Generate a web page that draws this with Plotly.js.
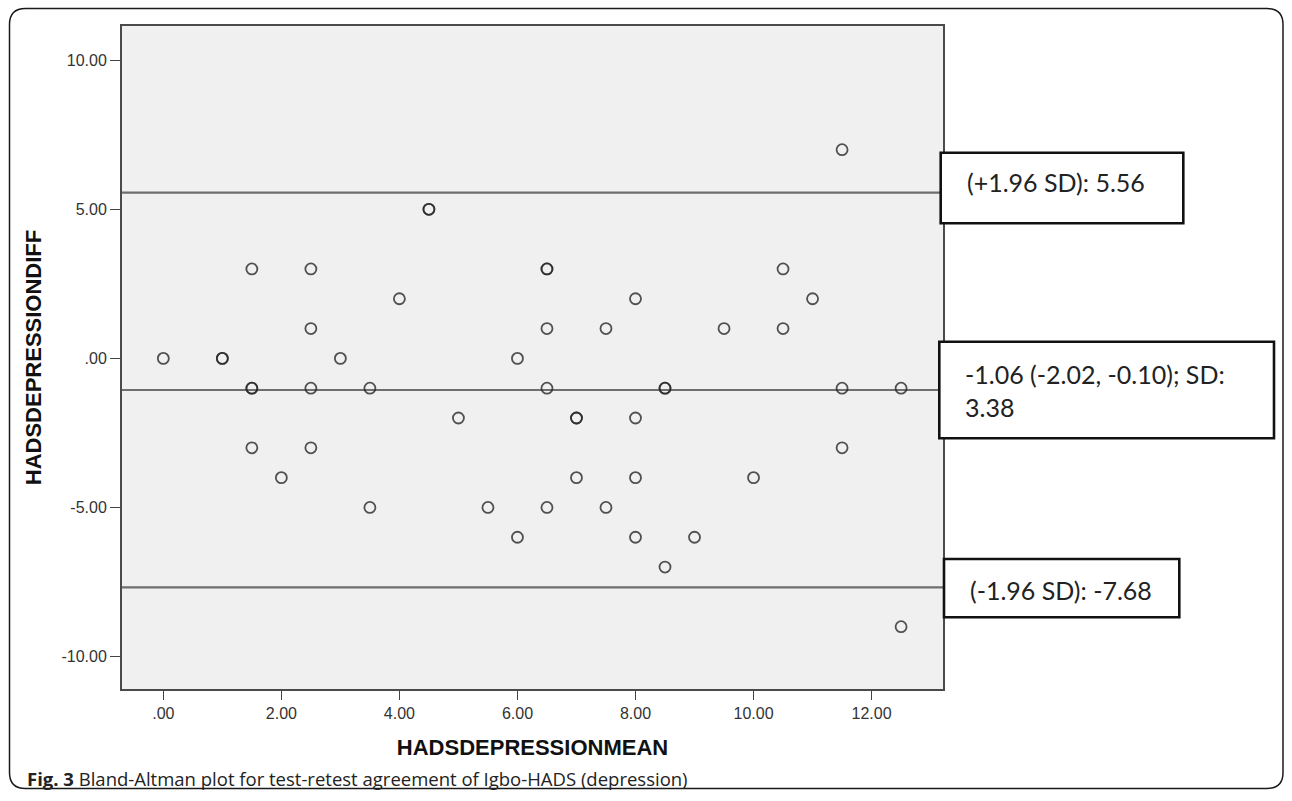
<!DOCTYPE html>
<html>
<head>
<meta charset="utf-8">
<script src="https://cdn.plot.ly/plotly-3.0.1.min.js"></script>
<style>
  html, body { margin: 0; padding: 0; background: #ffffff; }
  #chart { width: 1292px; height: 801px; }
</style>
</head>
<body>
<div id="chart"></div>
<script>
// ---- data ----
const hadsDepressionMean = [0, 1, 1, 1.5, 1.5, 1.5, 1.5, 2, 2.5, 2.5, 2.5, 2.5, 3, 3.5, 3.5, 4, 4.5, 4.5, 5, 5.5,
  6, 6, 6.5, 6.5, 6.5, 6.5, 6.5, 7, 7, 7, 7.5, 7.5, 8, 8, 8, 8, 8.5, 8.5, 8.5, 9, 9.5, 10, 10.5, 10.5, 11,
  11.5, 11.5, 11.5, 12.5, 12.5];
const hadsDepressionDiff = [0, 0, 0, 3, -1, -1, -3, -4, 3, 1, -1, -3, 0, -1, -5, 2, 5, 5, -2, -5,
  0, -6, 3, 3, 1, -1, -5, -2, -2, -4, 1, -5, 2, -2, -4, -6, -1, -1, -7, -6, 1, -4, 3, 1, 2,
  7, -1, -3, -1, -9];
const meanDiff = -1.06;
const ciLow = -2.02;
const ciHigh = -0.10;
const sdDiff = 3.38;
const upperLoA = 5.56;
const lowerLoA = -7.68;
const xTickVals = [0, 2, 4, 6, 8, 10, 12];
const xTickText = ['.00', '2.00', '4.00', '6.00', '8.00', '10.00', '12.00'];
const yTickVals = [-10, -5, 0, 5, 10];
const yTickText = ['-10.00', '-5.00', '.00', '5.00', '10.00'];
const caption = '<b>Fig. 3</b> Bland-Altman plot for test-retest agreement of Igbo-HADS (depression)';

// ---- geometry helpers (plot area in px) ----
const W = 1292, H = 801;
const L = 122, R = 943, T = 26, B = 689;
const pw = R - L, ph = B - T;
const px = v => (v - L) / pw;          // px -> paper x
const py = v => (B - v) / ph;          // px -> paper y

function roundRect(x0, y0, x1, y1, r) {
  const a = px(x0), b = px(x1), c = py(y0), d = py(y1);
  const rx = r / pw, ry = r / ph;
  return `M ${a + rx} ${c} L ${b - rx} ${c} Q ${b} ${c} ${b} ${c - ry} ` +
         `L ${b} ${d + ry} Q ${b} ${d} ${b - rx} ${d} L ${a + rx} ${d} ` +
         `Q ${a} ${d} ${a} ${d + ry} L ${a} ${c - ry} Q ${a} ${c} ${a + rx} ${c} Z`;
}

const boxes = [
  {x0: 940.7, x1: 1183.3, y0: 152.7, y1: 223.3, tx: 965, ty: 182,
   text: `(+1.96 SD): ${upperLoA.toFixed(2)}`},
  {x0: 939.3, x1: 1274, y0: 341.7, y1: 438.3, tx: 963, ty: 390,
   text: `${meanDiff.toFixed(2)} (${ciLow.toFixed(2)}, ${ciHigh.toFixed(2)}); SD:<br>${sdDiff.toFixed(2)}`},
  {x0: 944, x1: 1179.3, y0: 559, y1: 617.3, tx: 968, ty: 590,
   text: `(-1.96 SD): ${lowerLoA.toFixed(2)}`}
];

const shapes = [];
[upperLoA, meanDiff, lowerLoA].forEach(v => shapes.push({
  type: 'line', xref: 'paper', yref: 'y', x0: 0, x1: 1, y0: v, y1: v,
  line: {color: '#6e6e6e', width: 2.2}, layer: 'below'
}));
boxes.forEach(bx => shapes.push({
  type: 'rect', xref: 'paper', yref: 'paper',
  x0: px(bx.x0), x1: px(bx.x1), y0: py(bx.y1), y1: py(bx.y0),
  line: {color: '#111111', width: 2.6}, fillcolor: '#ffffff', layer: 'above'
}));
shapes.push({
  type: 'path', xref: 'paper', yref: 'paper', path: roundRect(9.5, 8.5, 1283, 788.5, 16),
  line: {color: '#1a1a1a', width: 1.5}, layer: 'above'
});

const annotations = boxes.map(bx => ({
  xref: 'paper', yref: 'paper', x: px(bx.tx), y: py(bx.ty),
  xanchor: 'left', yanchor: 'middle', align: 'left', showarrow: false,
  text: bx.text, font: {family: 'Lato, "Open Sans", sans-serif', size: 25, color: '#222222'}
}));
annotations.push({
  xref: 'paper', yref: 'paper', x: px(25), y: py(778),
  xanchor: 'left', yanchor: 'middle', align: 'left', showarrow: false,
  text: caption, font: {family: '"Open Sans", "Noto Sans", sans-serif', size: 18.5, color: '#222222'}
});

const trace = {
  type: 'scatter', mode: 'markers',
  x: hadsDepressionMean, y: hadsDepressionDiff,
  marker: {symbol: 'circle-open', size: 11, color: 'rgba(40,40,40,0.8)', line: {width: 1.8}},
  hoverinfo: 'x+y', showlegend: false
};

const axisFont = {family: '"Liberation Sans", Arial, sans-serif', size: 16, color: '#333333'};
const titleFont = {family: '"Liberation Sans", Arial, sans-serif', size: 22, color: '#111111'};

const layout = {
  width: W, height: H,
  margin: {l: L, r: W - R, t: T, b: H - B, pad: 0},
  paper_bgcolor: '#ffffff', plot_bgcolor: '#f0f0f0',
  showlegend: false,
  xaxis: {
    range: [-0.70, 13.21], tickmode: 'array', tickvals: xTickVals, ticktext: xTickText,
    ticks: 'outside', ticklen: 9, tickwidth: 1.5, tickcolor: '#444444',
    showline: true, mirror: true, linecolor: '#4a4a4a', linewidth: 2,
    showgrid: false, zeroline: false, tickfont: axisFont,
    title: {text: '<b>HADSDEPRESSIONMEAN</b>', font: titleFont, standoff: 18}
  },
  yaxis: {
    range: [-11.09, 11.15], tickmode: 'array', tickvals: yTickVals, ticktext: yTickText,
    ticks: 'outside', ticklen: 10, tickwidth: 1.5, tickcolor: '#444444',
    showline: true, mirror: true, linecolor: '#4a4a4a', linewidth: 2,
    showgrid: false, zeroline: false, tickfont: axisFont,
    title: {text: '<b>HADSDEPRESSIONDIFF</b>', font: titleFont, standoff: 14}
  },
  shapes: shapes,
  annotations: annotations
};

Plotly.newPlot('chart', [trace], layout, {displayModeBar: false, staticPlot: true});
</script>
</body>
</html>
